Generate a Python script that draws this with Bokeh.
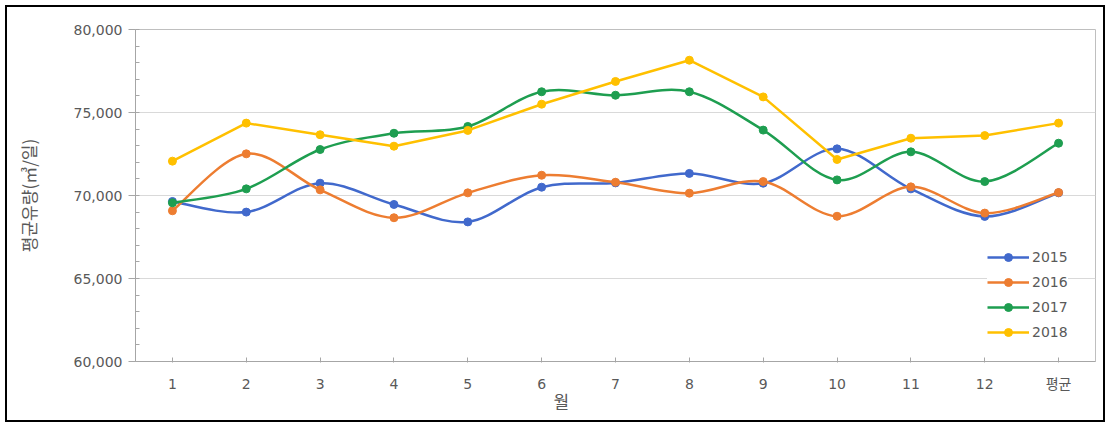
from bokeh.plotting import figure
from bokeh.models import (Range1d, FixedTicker, SingleIntervalTicker, Legend, LegendItem,
                          Title, ColumnDataSource, NumeralTickFormatter, InlineStyleSheet)
from bokeh.embed import file_html
from bokeh.resources import INLINE

categories = ["1", "2", "3", "4", "5", "6", "7", "8", "9", "10", "11", "12", "평균"]
v2015 = [69640, 69000, 70740, 69460, 68410, 70500, 70760, 71330, 70740, 72810, 70400, 68740, 70160]
v2016 = [69080, 72510, 70340, 68660, 70160, 71220, 70800, 70140, 70840, 68750, 70520, 68940, 70180]
v2017 = [69560, 70400, 72770, 73750, 74160, 76250, 76040, 76250, 73940, 70940, 72630, 70840, 73150]
v2018 = [72070, 74360, 73660, 72970, 73920, 75500, 76870, 78150, 75940, 72170, 73450, 73610, 74360]
series_names = ["2015", "2016", "2017", "2018"]
series_values = [v2015, v2016, v2017, v2018]
series_smooth = [True, True, True, False]
colors = ["#4169CC", "#ED7D31", "#1E9E50", "#FFC000"]

NUMFONT = "DejaVu Sans, Noto Sans CJK KR"
KFONT = "Noto Sans CJK KR"
GRAY = "#595959"

xs = list(range(1, len(categories) + 1))

p = figure(width=1113, height=431, output_backend="svg", toolbar_location=None,
           x_range=Range1d(0.5, len(categories) + 0.5), y_range=Range1d(60000, 80000),
           min_border_left=135, min_border_right=18, min_border_top=29, min_border_bottom=70)
p.background_fill_color = "white"
p.border_fill_color = "white"
p.outline_line_color = "#BFBFBF"
p.outline_line_width = 1
p.stylesheets = [InlineStyleSheet(css="""
:host { position: relative; }
:host::after {
  content: ""; position: absolute; left: 5px; top: 5px; width: 1100px; height: 417px;
  border: 2px solid black; box-sizing: border-box; pointer-events: none; z-index: 1000;
}
""")]

# y axis
p.yaxis.ticker = SingleIntervalTicker(interval=5000, num_minor_ticks=5)
p.yaxis.formatter = NumeralTickFormatter(format="0,0")
p.yaxis.axis_line_color = "#A6A6A6"
p.yaxis.major_tick_line_color = "#A6A6A6"
p.yaxis.minor_tick_line_color = "#A6A6A6"
p.yaxis.major_tick_out = 7
p.yaxis.major_tick_in = 0
p.yaxis.minor_tick_out = 0
p.yaxis.minor_tick_in = 4
p.yaxis.major_label_text_font = NUMFONT
p.yaxis.major_label_text_font_size = "14px"
p.yaxis.major_label_text_color = GRAY
p.yaxis.major_label_standoff = 6
p.yaxis.axis_label = "평균유량(㎥/일)"
p.yaxis.axis_label_text_font = KFONT
p.yaxis.axis_label_text_font_size = "17px"
p.yaxis.axis_label_text_font_style = "normal"
p.yaxis.axis_label_text_color = GRAY
p.yaxis.axis_label_standoff = 30

# x axis
p.xaxis.ticker = FixedTicker(ticks=xs)
p.xaxis.major_label_overrides = {x: c for x, c in zip(xs, categories)}
p.xaxis.axis_line_color = "#A6A6A6"
p.xaxis.major_tick_line_color = "#A6A6A6"
p.xaxis.major_tick_in = 4
p.xaxis.major_tick_out = 1
p.xaxis.minor_tick_line_color = None
p.xaxis.major_label_text_font = NUMFONT
p.xaxis.major_label_text_font_size = "14px"
p.xaxis.major_label_text_color = GRAY
p.xaxis.major_label_standoff = 13

p.xgrid.grid_line_color = None
p.ygrid.grid_line_color = "#D9D9D9"
p.ygrid.grid_line_width = 1

items = []
for name, vals, smooth, col in zip(series_names, series_values, series_smooth, colors):
    if smooth:
        n = len(xs)
        x0, y0, x1, y1, cx0, cy0, cx1, cy1 = [], [], [], [], [], [], [], []
        for i in range(n - 1):
            im = max(i - 1, 0)
            ip = min(i + 2, n - 1)
            x0.append(xs[i]); y0.append(vals[i])
            x1.append(xs[i + 1]); y1.append(vals[i + 1])
            cx0.append(xs[i] + (xs[i + 1] - xs[im]) / 6.0)
            cy0.append(vals[i] + (vals[i + 1] - vals[im]) / 6.0)
            cx1.append(xs[i + 1] - (xs[ip] - xs[i]) / 6.0)
            cy1.append(vals[i + 1] - (vals[ip] - vals[i]) / 6.0)
        src = ColumnDataSource(dict(x0=x0, y0=y0, x1=x1, y1=y1, cx0=cx0, cy0=cy0, cx1=cx1, cy1=cy1))
        lr = p.bezier(x0="x0", y0="y0", x1="x1", y1="y1", cx0="cx0", cy0="cy0", cx1="cx1", cy1="cy1",
                      source=src, line_color=col, line_width=2.5)
    else:
        lr = p.line(xs, vals, line_color=col, line_width=2.5)
    sr = p.scatter(xs, vals, size=8, fill_color=col, line_color=col)
    items.append(LegendItem(label=name, renderers=[lr, sr]))

legend = Legend(items=items, location=(852, 19), orientation="vertical",
                background_fill_color="white", background_fill_alpha=1,
                border_line_color=None, padding=4, margin=0, spacing=5,
                glyph_width=42, glyph_height=20, label_height=20, label_standoff=3,
                label_text_font=NUMFONT, label_text_font_size="14px", label_text_color=GRAY)
p.add_layout(legend)

xtitle = Title(text="월", align="left", offset=418, standoff=-18,
               text_font=KFONT, text_font_size="17px", text_font_style="normal", text_color=GRAY)
p.add_layout(xtitle, "below")

open("out.html", "w").write(file_html(p, INLINE))
